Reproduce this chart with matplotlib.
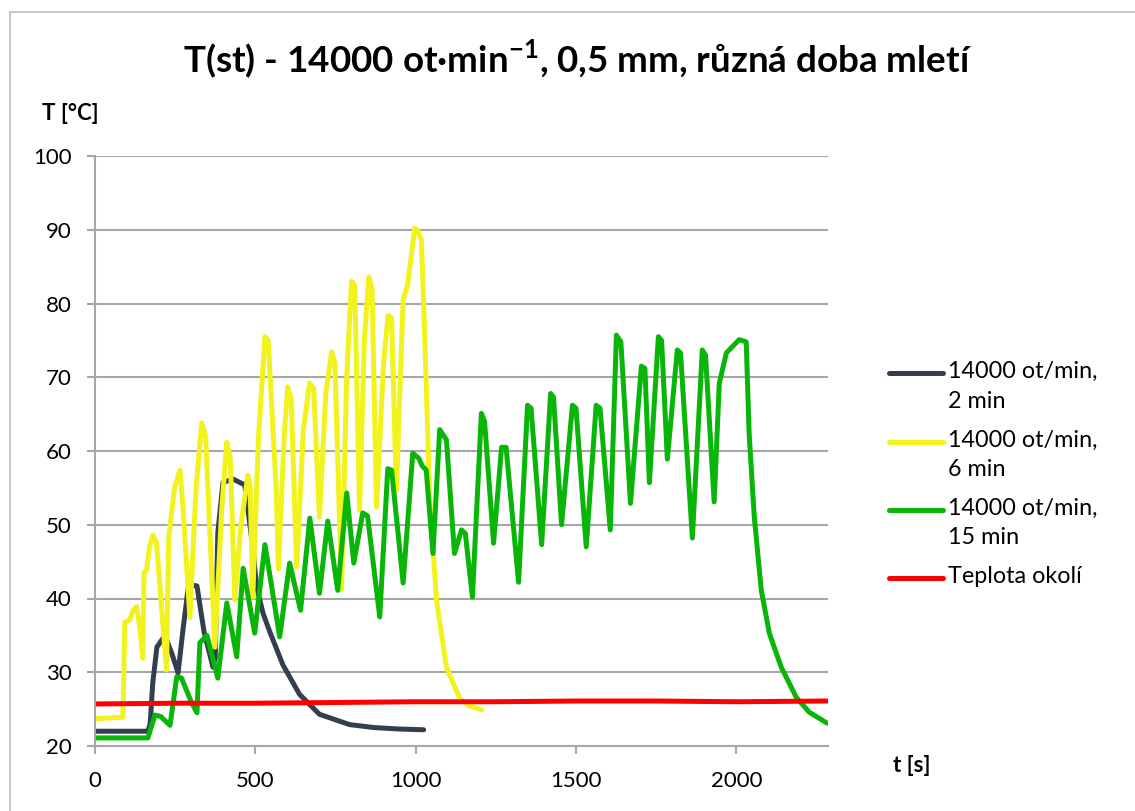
import matplotlib
matplotlib.use("Agg")
import matplotlib.pyplot as plt
from matplotlib.lines import Line2D
from matplotlib.patches import Rectangle

# 14000 ot/min, 2 min
t_2min = [0, 165, 172, 180, 193, 218, 240, 259, 275, 290, 305, 318, 340, 368, 375, 383,
          399, 430, 467, 493, 504, 524, 545, 586, 638, 700, 794, 870, 950, 1025]
T_2min = [22.0, 22.0, 23.0, 28.5, 33.4, 35.0, 32.5, 29.9, 36.0, 41.2, 41.8, 41.7, 35.5, 30.7, 32.0, 48.9,
          55.7, 56.2, 55.4, 46.6, 41.6, 38.0, 35.5, 31.0, 27.0, 24.3, 22.9, 22.5, 22.3, 22.2]

# 14000 ot/min, 6 min
t_6min = [0, 87, 93, 109, 118, 130, 140, 149, 153, 161, 170, 181, 192, 223, 230, 248, 265, 275,
          296, 315, 333, 345, 374, 395, 411, 422, 436, 455, 477, 484, 492, 510, 530, 540, 565,
          572, 590, 601, 612, 629, 650, 669, 682, 700, 720, 738, 748, 769, 785, 800, 810, 825,
          840, 854, 864, 878, 900, 914, 925, 940, 961, 975, 997, 1005, 1018, 1028, 1044, 1065,
          1096, 1137, 1170, 1206]
T_6min = [23.7, 23.9, 36.8, 37.1, 38.4, 38.9, 36.0, 31.9, 43.5, 43.9, 47.0, 48.6, 47.5, 30.3, 48.3, 55.0, 57.4, 52.0,
          37.4, 55.0, 63.8, 62.0, 33.4, 52.0, 61.2, 59.0, 39.8, 50.0, 56.7, 55.0, 40.2, 62.0, 75.5, 75.0, 55.0,
          44.0, 62.0, 68.7, 67.0, 44.3, 63.0, 69.2, 68.5, 51.0, 68.0, 73.4, 72.0, 41.2, 70.0, 83.0, 82.5, 52.0,
          75.0, 83.6, 82.0, 52.4, 72.0, 78.4, 78.0, 54.7, 80.5, 82.5, 90.2, 90.0, 88.6, 76.0, 53.4, 39.8,
          30.7, 26.5, 25.4, 24.9]

# 14000 ot/min, 15 min
t_15min = [0, 165, 175, 187, 205, 234, 255, 270, 300, 318, 327, 349, 383, 411, 442, 462, 498, 530,
           576, 607, 641, 670, 700, 726, 757, 785, 807, 835, 850, 888, 913, 925, 961, 991, 1010,
           1020, 1033, 1054, 1075, 1096, 1121, 1143, 1155, 1177, 1205, 1215, 1243, 1268, 1282, 1321,
           1349, 1360, 1393, 1421, 1430, 1455, 1489, 1500, 1532, 1563, 1575, 1607, 1626, 1640, 1670,
           1704, 1715, 1729, 1757, 1767, 1785, 1816, 1826, 1863, 1894, 1904, 1931, 1947, 1969, 2009,
           2031, 2040, 2056, 2078, 2103, 2140, 2187, 2227, 2283]
T_15min = [21.1, 21.1, 22.5, 24.2, 24.0, 22.8, 29.4, 29.2, 26.0, 24.5, 34.0, 35.0, 29.2, 39.4, 32.1, 44.1, 35.3, 47.3,
           34.8, 44.8, 38.4, 50.9, 40.7, 50.5, 41.1, 54.3, 44.8, 51.6, 51.2, 37.5, 57.6, 57.4, 42.1, 59.7, 59.0,
           58.0, 57.4, 46.1, 62.9, 61.5, 46.1, 49.3, 48.8, 40.2, 65.1, 64.0, 47.5, 60.5, 60.5, 42.2,
           66.2, 65.8, 47.3, 67.8, 67.3, 50.0, 66.2, 65.8, 47.0, 66.2, 65.8, 49.3, 75.7, 74.8, 52.9,
           71.5, 71.2, 55.7, 75.5, 75.0, 58.9, 73.7, 73.3, 48.2, 73.7, 73.0, 53.1, 69.2, 73.3, 75.1,
           74.8, 62.4, 51.1, 41.1, 35.3, 30.7, 26.6, 24.6, 23.1]

# Teplota okolí
t_amb = [0, 250, 500, 750, 1000, 1250, 1500, 1750, 2000, 2283]
T_amb = [25.7, 25.8, 25.8, 25.9, 26.0, 26.0, 26.1, 26.1, 26.0, 26.1]

series = [
    (t_2min, T_2min, "#333F50", "14000 ot/min,\n2 min"),
    (t_6min, T_6min, "#F2F21E", "14000 ot/min,\n6 min"),
    (t_15min, T_15min, "#09B509", "14000 ot/min,\n15 min"),
    (t_amb, T_amb, "#FF0000", "Teplota okolí"),
]

plt.rcParams['font.family'] = ['Lato', 'DejaVu Sans']
plt.rcParams['mathtext.fontset'] = 'custom'
plt.rcParams['mathtext.rm'] = 'Lato'
plt.rcParams['mathtext.bf'] = 'Lato:bold'
W, H = 1135, 811
fig = plt.figure(figsize=(W / 100, H / 100), dpi=100)
ax = fig.add_axes([95 / W, 1 - 746 / H, (828 - 95) / W, (746 - 156) / H])

for t, T, color, label in series:
    ax.plot(t, T, color=color, lw=3.6, solid_capstyle='round', solid_joinstyle='round')

grid_col = "#A6A6A6"
ax.set_xlim(0, 2286)
ax.set_ylim(20, 100)
ax.set_xticks([0, 500, 1000, 1500, 2000])
ax.set_yticks(range(20, 101, 10))
ax.yaxis.grid(True, color=grid_col, lw=1.5)
ax.set_axisbelow(True)
for s in ["top", "right"]:
    ax.spines[s].set_visible(False)
for s in ["left", "bottom"]:
    ax.spines[s].set_color(grid_col)
    ax.spines[s].set_linewidth(1.5)
ax.tick_params(axis='both', colors=grid_col, length=6, width=1.5, labelsize=16,
               labelcolor='black')
ax.tick_params(axis='y', pad=11)
ax.tick_params(axis='x', pad=12)

# title and axis labels
fig.text(578 / W, 1 - 60 / H, r"T(st) - 14000 ot·min$^{\mathbf{-1}}$, 0,5 mm, různá doba mletí",
         ha='center', va='center', fontsize=26.5, fontweight='bold')
fig.text(42 / W, 1 - 113 / H, "T [°C]", ha='left', va='center', fontsize=16, fontweight='bold')
fig.text(893 / W, 1 - 765 / H, "t [s]", ha='left', va='center', fontsize=16, fontweight='bold')

# legend, handle aligned with first text line as in the original
row_y = [373, 442, 510, 578]
for (t, T, color, label), y in zip(series, row_y):
    fig.add_artist(Line2D([889 / W, 943 / W], [1 - y / H, 1 - y / H], color=color, lw=3.6,
                          solid_capstyle='round'))
    fig.text(948 / W, 1 - (y - 12) / H, label, ha='left', va='top', fontsize=16.8,
             linespacing=1.5)

# chart area border
fig.add_artist(Rectangle((10 / W, -0.1), 1.2, 1 - 12 / H + 0.1, transform=fig.transFigure,
                         fill=False, edgecolor="#BFBFBF", lw=1.2))

fig.savefig("out.png", dpi=100)
